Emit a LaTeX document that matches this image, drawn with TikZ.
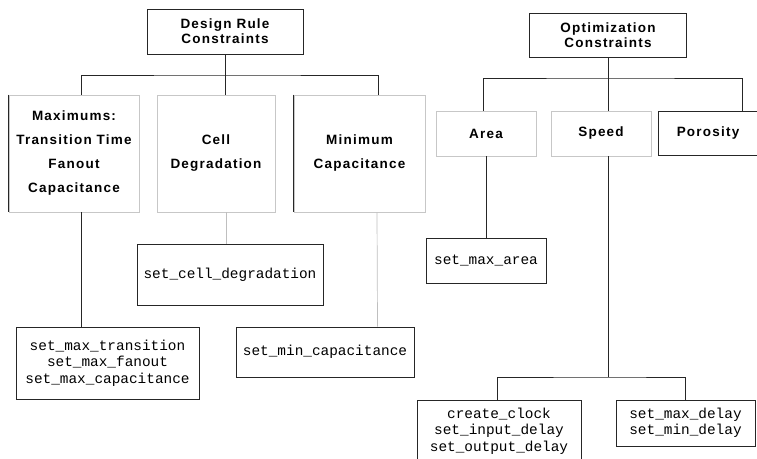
\documentclass[tikz,border=0pt]{standalone}
\usepackage{fontspec}
\setmonofont{Liberation Mono}
\newfontfamily\headfont[LetterSpace=9]{Liberation Sans}
\usetikzlibrary{positioning}

\tikzset{
  head/.style={draw=black!85, line width=0.9pt, align=center, inner sep=0pt,
    font=\headfont\bfseries\fontsize{13.5}{15}\selectfont},
  catbox/.style={draw=black!22, line width=0.7pt, align=center, inner sep=0pt,
    font=\headfont\bfseries\fontsize{13.5}{24}\selectfont},
  cmdbox/.style={draw=black!85, line width=0.9pt, align=center, inner sep=0pt,
    font=\ttfamily\fontsize{14.4}{16.5}\selectfont},
  link/.style={draw=black!85, line width=0.9pt},
  faint/.style={draw=black!25, line width=0.7pt},
}

\begin{document}
\begin{tikzpicture}[x=1pt,y=-1pt]
  \useasboundingbox (0,0) rectangle (757,458);

  % design rule side
  \node[head, minimum width=156, minimum height=45] (drc) at (225,31.5) {Design Rule\\Constraints};
  \node[catbox, minimum width=130, minimum height=117] (maxb) at (74,153.5)
    {Maximums:\\Transition Time\\Fanout\\Capacitance};
  \node[catbox, minimum width=118, minimum height=117] (cellb) at (216,153.5) {Cell\\Degradation};
  \node[catbox, minimum width=131, minimum height=117] (minb) at (359.5,153.5) {Minimum\\Capacitance};

  \node[cmdbox, minimum width=183, minimum height=72] (smt) at (107.5,363)
    {set\_max\_transition\\set\_max\_fanout\\set\_max\_capacitance};
  \node[cmdbox, minimum width=186, minimum height=61] (scd) at (230,274.5) {set\_cell\_degradation};
  \node[cmdbox, minimum width=178, minimum height=50] (smc) at (325,352) {set\_min\_capacitance};

  % optimization side
  \node[head, minimum width=157, minimum height=44] (opt) at (608,35) {Optimization\\Constraints};
  \node[catbox, minimum width=100, minimum height=45] (area) at (486,133.5) {Area};
  \node[catbox, minimum width=100, minimum height=45] (speed) at (601,133.5) {Speed};
  \node[catbox, draw=black!85, line width=0.9pt, minimum width=100, minimum height=44] (poro) at (708,133) {Porosity};

  \node[cmdbox, minimum width=120, minimum height=45] (sma) at (486,260.5) {set\_max\_area};
  \node[cmdbox, minimum width=164, minimum height=62] (clk) at (499,431)
    {create\_clock\\set\_input\_delay\\set\_output\_delay};
  \node[cmdbox, minimum width=139, minimum height=46] (dly) at (685.5,423)
    {set\_max\_delay\\set\_min\_delay};

  % darker left edges
  \draw[link] (maxb.north west) -- (maxb.south west);
  \draw[link] (minb.north west) -- (minb.south west);

  % tree lines
  \coordinate (drcbus) at (225,75);
  \draw[link] (drc.south) -- ([xshift=9pt]cellb.north);
  \draw[link] ([xshift=7pt]maxb.north) |- (drcbus) -| ([xshift=18.5pt]minb.north);
  \draw[link] ([xshift=7pt]maxb.south) -- ([xshift=-26.5pt]smt.north);
  \draw[faint] ([xshift=10pt]cellb.south) -- ([xshift=-4pt]scd.north);
  \draw[faint] ([xshift=17.5pt]minb.south) -- ([xshift=52.5pt]smc.north);

  \coordinate (optbus) at (608,78);
  \draw[link] (opt.south) -- ([xshift=7pt]speed.north);
  \draw[link] ([xshift=-3pt]area.north) |- (optbus) -| ([xshift=34pt]poro.north);
  \draw[link] (area.south) -- (sma.north);

  \coordinate (spdbus) at (608,377);
  \draw[link] ([xshift=7pt]speed.south) -- (spdbus);
  \draw[link] ([xshift=-2pt]clk.north) |- (spdbus) -| (dly.north);
\end{tikzpicture}
\end{document}
